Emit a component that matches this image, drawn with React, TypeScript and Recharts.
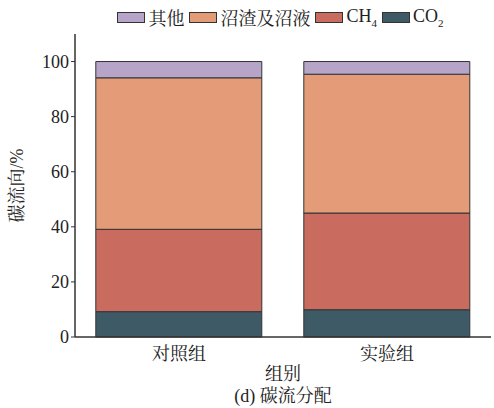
import React from 'react';
import { BarChart, Bar, XAxis, YAxis, Legend } from 'recharts';

const groups = ['对照组', '实验组'];
const co2 = [9.2, 9.9];
const ch4 = [29.9, 35.1];
const digestate = [55.0, 50.4];
const others = [5.9, 4.6];
const yTicks = [0, 20, 40, 60, 80, 100];

const FONT = "'Liberation Serif', 'Noto Serif CJK SC', 'Noto Sans CJK SC', serif";

const series = [
  { key: 'co2', label: 'CO', sub: '2', color: '#3e5a67' },
  { key: 'ch4', label: 'CH', sub: '4', color: '#c96b5f' },
  { key: 'digestate', label: '沼渣及沼液', sub: '', color: '#e39b78' },
  { key: 'others', label: '其他', sub: '', color: '#b7a5c9' },
];

const data = groups.map((name, i) => ({
  name,
  co2: co2[i],
  ch4: ch4[i],
  digestate: digestate[i],
  others: others[i],
}));

const LegendRow = () => (
  <div style={{ display: 'flex', justifyContent: 'center', alignItems: 'center', fontFamily: FONT, fontSize: 18, color: '#222' }}>
    {[...series].reverse().map((s) => (
      <div key={s.key} style={{ display: 'flex', alignItems: 'center', marginRight: 5 }}>
        <span style={{ width: 28, height: 11, background: s.color, border: '1px solid #333', marginRight: 3, boxSizing: 'border-box' }} />
        <span>
          {s.label}
          {s.sub && <sub style={{ fontSize: 11 }}>{s.sub}</sub>}
        </span>
      </div>
    ))}
  </div>
);

const BottomLabels = (props: any) => {
  const { viewBox } = props;
  const cx = viewBox.x + viewBox.width / 2;
  const y = viewBox.y + viewBox.height;
  return (
    <g fontFamily={FONT} fontSize={18} fill="#222" textAnchor="middle">
      <text x={cx} y={y + 13}>组别</text>
      <text x={cx} y={y + 35}>(d) 碳流分配</text>
    </g>
  );
};

export default function App() {
  return (
    <div style={{ position: 'absolute', left: 0, top: 0, width: 494, height: 408, background: '#fff' }}>
      <BarChart
        width={494}
        height={408}
        data={data}
        margin={{ top: 34, right: 3, bottom: 41, left: 15 }}
        barCategoryGap="10%"
      >
        <XAxis
          dataKey="name"
          height={30}
          tickLine={false}
          axisLine={{ stroke: '#333', strokeWidth: 1.5 }}
          tick={{ fontFamily: FONT, fontSize: 18, fill: '#222' }}
          tickMargin={4}
          label={<BottomLabels />}
        />
        <XAxis xAxisId="top" dataKey="name" orientation="top" height={0} tick={false} tickLine={false} axisLine={{ stroke: '#666', strokeWidth: 1 }} />
        <YAxis
          width={60}
          domain={[0, 110]}
          ticks={yTicks}
          tickSize={4}
          tickLine={{ stroke: '#333' }}
          axisLine={{ stroke: '#333', strokeWidth: 1.5 }}
          tick={{ fontFamily: FONT, fontSize: 18, fill: '#222' }}
          label={{ value: '碳流向/%', angle: -90, position: 'insideLeft', offset: 2, style: { fontFamily: FONT, fontSize: 18, fill: '#222', textAnchor: 'middle' } }}
        />
        <YAxis yAxisId="right" orientation="right" width={0} domain={[0, 110]} tick={false} tickLine={false} axisLine={{ stroke: '#666', strokeWidth: 2 }} />
        <Legend
          verticalAlign="middle"
          align="center"
          wrapperStyle={{ top: 4, left: 75, width: 416 }}
          content={() => <LegendRow />}
        />
        {series.map((s) => (
          <Bar
            key={s.key}
            dataKey={s.key}
            stackId="a"
            fill={s.color}
            stroke="#333"
            strokeWidth={1}
            isAnimationActive={false}
          />
        ))}
      </BarChart>
    </div>
  );
}
